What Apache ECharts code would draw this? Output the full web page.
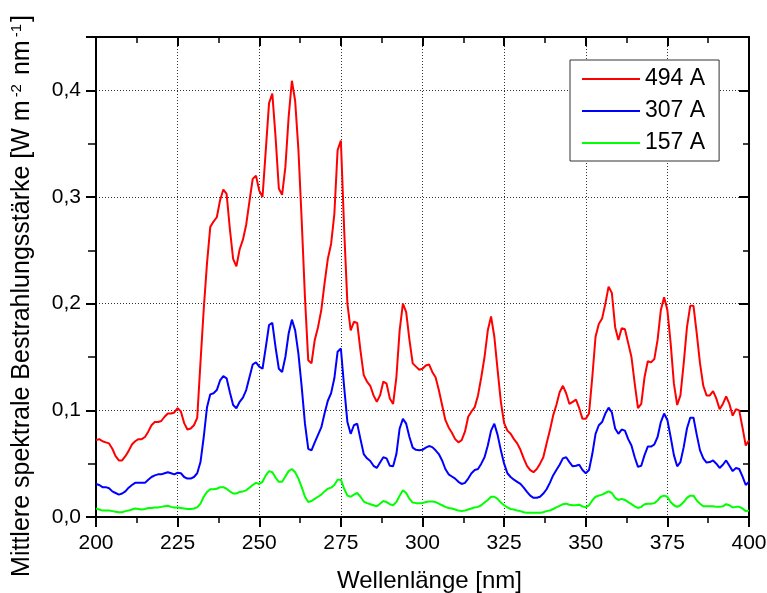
<!DOCTYPE html>
<html>
<head>
<meta charset="utf-8">
<script src="https://cdn.jsdelivr.net/npm/echarts@6/dist/echarts.min.js"></script>
<style>
  html, body { margin: 0; padding: 0; background: #fff; }
  #chart { width: 767px; height: 593px; }
</style>
</head>
<body>
<div id="chart"></div>
<script>

var wavelengths = [];
for (var w = 200; w <= 400; w++) {
  wavelengths.push(w);
}

var seriesNames = ["494 A", "307 A", "157 A"];
var seriesColors = ["#ff0000", "#0000ff", "#00ff00"];

var xTicks = [200, 225, 250, 275, 300, 325, 350, 375, 400];
var yTicks = [0.0, 0.1, 0.2, 0.3, 0.4];

// 494 A, one value per nm from 200 to 400
var red = [
  0.072,0.073,0.071,0.070,0.069,0.064,0.057,0.053,0.053,0.057,
  0.062,0.068,0.071,0.073,0.073,0.075,0.080,0.086,0.089,0.089,
  0.090,0.094,0.097,0.097,0.098,0.102,0.099,0.088,0.082,0.083,
  0.086,0.093,0.145,0.195,0.238,0.272,0.277,0.281,0.297,0.307,
  0.303,0.270,0.242,0.235,0.251,0.260,0.274,0.296,0.317,0.320,
  0.306,0.300,0.344,0.388,0.397,0.356,0.308,0.302,0.328,0.375,
  0.409,0.390,0.344,0.278,0.206,0.147,0.144,0.166,0.178,0.194,
  0.219,0.242,0.256,0.284,0.344,0.353,0.270,0.200,0.175,0.183,
  0.182,0.156,0.133,0.127,0.123,0.114,0.108,0.114,0.127,0.125,
  0.111,0.106,0.131,0.175,0.200,0.192,0.166,0.144,0.141,0.138,
  0.139,0.142,0.143,0.136,0.131,0.119,0.105,0.091,0.084,0.079,
  0.073,0.070,0.072,0.080,0.094,0.099,0.103,0.114,0.131,0.150,
  0.175,0.188,0.169,0.138,0.108,0.088,0.081,0.078,0.073,0.069,
  0.063,0.055,0.048,0.044,0.042,0.045,0.050,0.056,0.069,0.081,
  0.095,0.105,0.117,0.123,0.116,0.106,0.108,0.110,0.102,0.092,
  0.092,0.097,0.131,0.169,0.181,0.186,0.200,0.216,0.210,0.178,
  0.166,0.177,0.176,0.163,0.150,0.125,0.102,0.106,0.131,0.146,
  0.145,0.148,0.166,0.194,0.206,0.194,0.163,0.125,0.105,0.114,
  0.144,0.178,0.198,0.198,0.172,0.144,0.123,0.114,0.114,0.118,
  0.111,0.101,0.106,0.113,0.106,0.095,0.101,0.100,0.084,0.067,
  0.072
];

// 307 A
var blue = [
  0.031,0.030,0.028,0.028,0.027,0.024,0.0225,0.021,0.022,0.024,
  0.0275,0.030,0.032,0.032,0.032,0.032,0.035,0.0375,0.039,0.040,
  0.040,0.041,0.042,0.041,0.040,0.0415,0.041,0.0375,0.036,0.036,
  0.0375,0.041,0.0515,0.075,0.103,0.115,0.116,0.119,0.128,0.132,
  0.130,0.117,0.105,0.102,0.108,0.112,0.119,0.131,0.143,0.145,
  0.141,0.139,0.159,0.180,0.182,0.159,0.139,0.136,0.150,0.172,
  0.185,0.175,0.153,0.122,0.0875,0.064,0.0625,0.070,0.077,0.084,
  0.097,0.109,0.116,0.130,0.155,0.158,0.122,0.089,0.078,0.086,
  0.0875,0.073,0.059,0.055,0.0525,0.048,0.046,0.051,0.056,0.055,
  0.048,0.0475,0.059,0.083,0.092,0.0875,0.075,0.065,0.063,0.0625,
  0.063,0.065,0.0665,0.0655,0.0625,0.059,0.053,0.045,0.040,0.038,
  0.036,0.033,0.031,0.032,0.036,0.041,0.044,0.045,0.050,0.056,
  0.067,0.081,0.0875,0.077,0.0625,0.050,0.041,0.0375,0.035,0.033,
  0.031,0.0275,0.0235,0.020,0.018,0.018,0.019,0.022,0.026,0.032,
  0.039,0.044,0.049,0.055,0.056,0.0515,0.0475,0.048,0.049,0.044,
  0.041,0.044,0.059,0.078,0.086,0.089,0.097,0.1025,0.098,0.083,
  0.078,0.082,0.081,0.073,0.067,0.056,0.047,0.048,0.058,0.066,
  0.066,0.068,0.075,0.089,0.097,0.091,0.075,0.058,0.0475,0.0515,
  0.0655,0.083,0.093,0.093,0.077,0.0625,0.055,0.051,0.0515,0.053,
  0.050,0.046,0.049,0.053,0.048,0.043,0.046,0.045,0.038,0.030,
  0.033
];

// 157 A
var green = [
  0.008,0.007,0.006,0.006,0.006,0.0055,0.005,0.0045,0.0045,0.0055,
  0.006,0.007,0.008,0.0075,0.007,0.0075,0.0085,0.0085,0.009,0.009,
  0.0095,0.010,0.0105,0.0095,0.009,0.009,0.0085,0.008,0.0075,0.0075,
  0.008,0.009,0.0125,0.019,0.0235,0.026,0.026,0.0265,0.028,0.028,
  0.0265,0.024,0.022,0.022,0.0235,0.024,0.025,0.0275,0.030,0.032,
  0.031,0.033,0.039,0.043,0.042,0.037,0.033,0.033,0.038,0.043,
  0.045,0.042,0.036,0.028,0.019,0.014,0.015,0.017,0.019,0.021,
  0.024,0.0265,0.0275,0.030,0.035,0.035,0.0265,0.020,0.019,0.021,
  0.0225,0.019,0.0145,0.013,0.012,0.011,0.010,0.0125,0.015,0.014,
  0.012,0.011,0.014,0.020,0.025,0.0225,0.017,0.0135,0.013,0.013,
  0.013,0.014,0.0145,0.0145,0.014,0.0125,0.011,0.0095,0.0085,0.008,
  0.007,0.006,0.0055,0.006,0.007,0.008,0.009,0.0095,0.011,0.0135,
  0.016,0.019,0.019,0.017,0.0135,0.011,0.009,0.0075,0.007,0.006,
  0.0055,0.0045,0.004,0.004,0.004,0.004,0.004,0.0045,0.0055,0.006,
  0.0075,0.009,0.0105,0.012,0.0125,0.0115,0.011,0.011,0.0115,0.010,
  0.009,0.011,0.0155,0.019,0.020,0.021,0.0225,0.024,0.0225,0.018,
  0.016,0.017,0.016,0.014,0.012,0.010,0.0085,0.0095,0.012,0.0125,
  0.0125,0.013,0.0155,0.019,0.020,0.019,0.014,0.011,0.0095,0.011,
  0.014,0.018,0.020,0.020,0.0155,0.0125,0.010,0.010,0.010,0.010,
  0.0095,0.0095,0.010,0.012,0.011,0.009,0.0095,0.0095,0.008,0.0055,
  0.006
];

var FONT = "'Liberation Sans', Arial, sans-serif";

function pairs(values){
  return wavelengths.map(function(x, i){
    return [x, values[i]];
  });
}

var chart = echarts.init(document.getElementById("chart"), null, {renderer: "canvas"});

var yLabel = function(v){
  for (var i = 0; i < yTicks.length; i++) {
    if (Math.abs(v - yTicks[i]) < 1e-9) return yTicks[i].toFixed(1).replace(".", ",");
  }
  return "";
};

var option = {
  backgroundColor: "#fff",
  animation: false,

  grid: {
    left: 96,
    right: 18,
    top: 37,
    bottom: 76,
    containLabel: false,
    outerBoundsMode: "none"
  },

  legend: {
    orient: "vertical",
    left: 570,
    top: 60,
    padding: [6, 14, 5, 12],
    itemGap: 6,
    itemWidth: 58,
    itemHeight: 2,
    icon: "rect",
    backgroundColor: "#fff",
    borderColor: "#333",
    borderWidth: 1,
    textStyle: {
      fontFamily: FONT,
      fontSize: 23,
      color: "#000",
      lineHeight: 26
    },
    data: seriesNames
  },

  xAxis: [
    {
      type: "value",
      min: xTicks[0],
      max: xTicks[xTicks.length - 1],
      interval: 25,
      name: "Wellenlänge [nm]",
      nameLocation: "middle",
      nameGap: 52,
      nameTextStyle: {
        fontFamily: FONT,
        fontSize: 24,
        color: "#000",
        padding: [0, 0, 0, 14]
      },
      axisLine: { show: true, onZero: false, lineStyle: { color: "#000", width: 2 } },
      axisTick: { show: true, length: 10, lineStyle: { color: "#000", width: 2 } },
      minorTick: { show: true, splitNumber: 2, length: 6, lineStyle: { color: "#000", width: 1.5 } },
      axisLabel: {
        margin: 16,
        fontFamily: FONT,
        fontSize: 21,
        color: "#000"
      },
      splitLine: { show: true, lineStyle: { color: "#333", width: 1, type: [1, 2] } }
    },
    {
      type: "value",
      position: "top",
      min: xTicks[0],
      max: xTicks[xTicks.length - 1],
      interval: 25,
      axisLine: { show: true, onZero: false, lineStyle: { color: "#000", width: 2 } },
      axisTick: { show: true, inside: true, length: 9, lineStyle: { color: "#000", width: 2 } },
      minorTick: { show: true, splitNumber: 2, length: 6, lineStyle: { color: "#000", width: 1.5 } },
      axisLabel: { show: false },
      splitLine: { show: false }
    }
  ],

  yAxis: [
    {
      type: "value",
      min: 0,
      max: 0.45,
      interval: 0.1,
      axisLine: { show: true, onZero: false, lineStyle: { color: "#000", width: 2 } },
      axisTick: { show: true, length: 10, lineStyle: { color: "#000", width: 2 } },
      minorTick: { show: true, splitNumber: 2, length: 8, lineStyle: { color: "#000", width: 1.5 } },
      axisLabel: {
        margin: 15,
        fontFamily: FONT,
        fontSize: 21,
        color: "#000",
        formatter: yLabel
      },
      splitLine: { show: true, lineStyle: { color: "#333", width: 1, type: [1, 2] } }
    },
    {
      type: "value",
      position: "right",
      min: 0,
      max: 0.45,
      interval: 0.1,
      axisLine: { show: true, onZero: false, lineStyle: { color: "#000", width: 2 } },
      axisTick: { show: true, inside: true, length: 10, lineStyle: { color: "#000", width: 2 } },
      minorTick: { show: true, splitNumber: 2, length: 6, lineStyle: { color: "#000", width: 1.5 } },
      axisLabel: { show: false },
      splitLine: { show: false }
    }
  ],

  graphic: [
    {
      type: "text",
      x: 22,
      y: 296,
      rotation: Math.PI / 2,
      style: {
        text: "Mittlere spektrale Bestrahlungsstärke [W m{sup|-2} nm{sup|-1}]",
        fontFamily: FONT,
        fontSize: 25,
        fill: "#000",
        align: "center",
        verticalAlign: "middle",
        rich: {
          sup: {
            fontFamily: FONT,
            fontSize: 15,
            verticalAlign: "top",
            padding: [0, 2, 0, 3]
          }
        }
      }
    }
  ],

  series: [
    {
      name: seriesNames[0],
      type: "line",
      showSymbol: false,
      color: seriesColors[0],
      lineStyle: { width: 2, color: seriesColors[0] },
      data: pairs(red)
    },
    {
      name: seriesNames[1],
      type: "line",
      showSymbol: false,
      color: seriesColors[1],
      lineStyle: { width: 2, color: seriesColors[1] },
      data: pairs(blue)
    },
    {
      name: seriesNames[2],
      type: "line",
      showSymbol: false,
      color: seriesColors[2],
      lineStyle: { width: 2, color: seriesColors[2] },
      data: pairs(green)
    }
  ]
};

chart.setOption(option);

</script>
</body>
</html>
